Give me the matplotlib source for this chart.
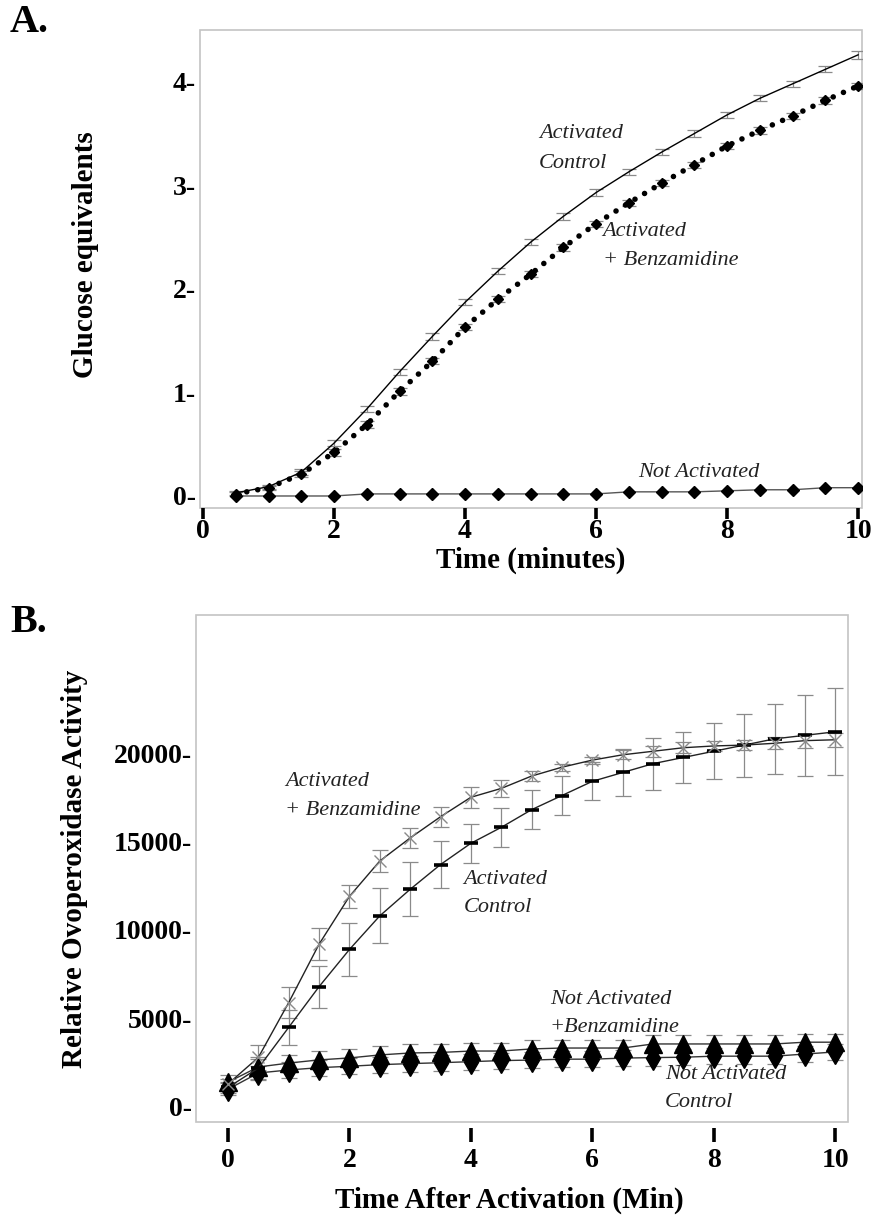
import matplotlib
matplotlib.use("Agg")
import matplotlib.pyplot as plt
from matplotlib.patches import Rectangle
from matplotlib.ticker import FixedLocator, FuncFormatter

plt.rcParams['font.family'] = ['Liberation Serif', 'DejaVu Serif']

# ---------------- Panel A data ----------------
tA = [0.5, 1.0, 1.5, 2.0, 2.5, 3.0, 3.5, 4.0, 4.5, 5.0,
      5.5, 6.0, 6.5, 7.0, 7.5, 8.0, 8.5, 9.0, 9.5, 10.0]
a_control = [0.03, 0.09, 0.23, 0.51, 0.84, 1.20, 1.54, 1.87, 2.17, 2.45,
             2.70, 2.93, 3.13, 3.32, 3.50, 3.68, 3.84, 3.98, 4.12, 4.26]
a_control_err = [0.02, 0.02, 0.03, 0.03, 0.03, 0.03, 0.03, 0.03, 0.03, 0.03,
                 0.03, 0.03, 0.03, 0.03, 0.03, 0.03, 0.03, 0.03, 0.03, 0.04]
a_benz = [0.02, 0.08, 0.21, 0.42, 0.69, 1.01, 1.30, 1.63, 1.90, 2.14,
          2.40, 2.63, 2.83, 3.02, 3.20, 3.38, 3.53, 3.67, 3.82, 3.96]
a_benz_err = [0.02, 0.02, 0.03, 0.03, 0.03, 0.03, 0.03, 0.03, 0.03, 0.03,
              0.03, 0.03, 0.03, 0.03, 0.03, 0.03, 0.03, 0.03, 0.03, 0.03]
a_notact = [0.0, 0.0, 0.0, 0.0, 0.02, 0.02, 0.02, 0.02, 0.02, 0.02,
            0.02, 0.02, 0.04, 0.04, 0.04, 0.05, 0.06, 0.06, 0.08, 0.08]
a_yticks = [0, 1, 2, 3, 4]
a_xticks = [0, 2, 4, 6, 8, 10]

# ---------------- Panel B data ----------------
tB = [0.0, 0.5, 1.0, 1.5, 2.0, 2.5, 3.0, 3.5, 4.0, 4.5, 5.0,
      5.5, 6.0, 6.5, 7.0, 7.5, 8.0, 8.5, 9.0, 9.5, 10.0]
b_control = [1100, 2200, 4500, 6800, 8900, 10800, 12300, 13700, 14900, 15800, 16800,
             17600, 18400, 18900, 19400, 19750, 20100, 20450, 20800, 21000, 21200]
b_control_err = [300, 600, 1000, 1180, 1500, 1550, 1530, 1340, 1100, 1100, 1100,
                 1100, 1070, 1330, 1470, 1440, 1580, 1780, 1980, 2300, 2450]
b_benz = [1300, 2800, 5900, 9200, 11900, 13900, 15200, 16400, 17500, 18000, 18700,
          19200, 19600, 19900, 20100, 20300, 20400, 20450, 20550, 20700, 20750]
b_benz_err = [300, 700, 900, 900, 650, 600, 550, 570, 600, 500, 300,
              200, 200, 250, 300, 300, 300, 300, 350, 400, 400]
b_na_benz = [1400, 2260, 2480, 2660, 2770, 2940, 3050, 3080, 3160, 3160, 3280,
             3330, 3330, 3330, 3560, 3560, 3560, 3560, 3560, 3660, 3660]
b_na_benz_err = [400, 450, 480, 480, 480, 480, 480, 480, 480, 480, 480,
                 480, 480, 480, 480, 480, 480, 480, 480, 480, 480]
b_na_control = [1000, 1920, 2090, 2220, 2300, 2390, 2450, 2500, 2560, 2620, 2650,
                2700, 2700, 2760, 2790, 2810, 2870, 2870, 2870, 2990, 3110]
b_na_control_err = [350, 420, 450, 450, 450, 450, 450, 450, 450, 450, 450,
                    450, 450, 450, 450, 450, 450, 450, 450, 450, 450]
b_yticks = [0, 5000, 10000, 15000, 20000]
b_xticks = [0, 2, 4, 6, 8, 10]

W, H = 884, 1215
fig = plt.figure(figsize=(W / 100, H / 100), dpi=100)

def frac_axes(left, top, right, bottom):
    return fig.add_axes([left / W, 1 - bottom / H, (right - left) / W, (bottom - top) / H])

GRAY = '#8a8a8a'
SPINE = '#c4c4c4'
TICK_FS = 20
LABEL_FS = 21

def style_axes(ax, xticks, yticks, offset, tlen, tpad):
    for s in ax.spines.values():
        s.set_visible(False)
    ax.add_patch(Rectangle((0, 0), 1, 1, transform=ax.transAxes, fill=False,
                           edgecolor=SPINE, lw=1.2, zorder=0.5, clip_on=False))
    ax.spines['bottom'].set_position(('outward', offset))
    ax.xaxis.set_major_locator(FixedLocator(xticks))
    ax.yaxis.set_major_locator(FixedLocator(yticks))
    ax.yaxis.set_major_formatter(FuncFormatter(lambda v, p: f"{int(v)}-"))
    ax.tick_params(axis='x', direction='out', length=tlen, width=2.6, color='black',
                   pad=tpad, labelsize=TICK_FS)
    ax.tick_params(axis='y', length=0, pad=3, labelsize=TICK_FS)
    for lab in ax.get_xticklabels() + ax.get_yticklabels():
        lab.set_fontweight('bold')
    ax.tick_params(top=False, right=False)

# ---------------- Panel A ----------------
axA = frac_axes(200, 30, 862, 508)
axA.set_xlim(-0.046, 10.06)
axA.set_ylim(-0.116, 4.50)
style_axes(axA, a_xticks, a_yticks, 0, 8, 0)

axA.errorbar(tA, a_control, yerr=a_control_err, fmt='none', ecolor=GRAY,
             elinewidth=0.9, capsize=5, capthick=0.9, zorder=2)
axA.plot(tA, a_control, color='black', lw=1.0, zorder=3)
axA.errorbar(tA, a_benz, yerr=a_benz_err, fmt='none', ecolor=GRAY,
             elinewidth=0.9, capsize=5, capthick=0.9, zorder=2)
axA.plot(tA, a_benz, color='black', lw=4.0, linestyle=(0, (0.01, 2.0)),
         dash_capstyle='round', zorder=3)
axA.plot(tA, a_benz, linestyle='none', marker='D', ms=5, color='black', zorder=4)
axA.plot(tA, a_notact, color='#555555', lw=1.0, marker='D', ms=6,
         mfc='black', mec='black', zorder=3)

it = dict(fontsize=16, style='italic', color='#222222')
axA.text(5.13, 3.50, 'Activated', va='center', ha='left', **it)
axA.text(5.13, 3.21, 'Control', va='center', ha='left', **it)
axA.text(6.1, 2.55, 'Activated', va='center', ha='left', **it)
axA.text(6.1, 2.27, '+ Benzamidine', va='center', ha='left', **it)
axA.text(6.65, 0.23, 'Not Activated', va='center', ha='left', **it)

axA.set_ylabel('Glucose equivalents', fontsize=LABEL_FS, fontweight='bold')
axA.yaxis.set_label_coords(-0.152, 0.53)
axA.set_xlabel('Time (minutes)', fontsize=LABEL_FS, fontweight='bold')
axA.xaxis.set_label_coords(0.5, -0.080)

fig.text(10 / W, 1 - 22 / H, 'A.', fontsize=29, fontweight='bold', va='center', ha='left')

# ---------------- Panel B ----------------
axB = frac_axes(196, 615, 848, 1122)
axB.set_xlim(-0.527, 10.21)
axB.set_ylim(-850, 27800)
style_axes(axB, b_xticks, b_yticks, 4, 10, 5)

axB.errorbar(tB, b_na_control, yerr=b_na_control_err, fmt='none', ecolor=GRAY,
             elinewidth=0.9, capsize=6, capthick=0.9, zorder=2)
axB.errorbar(tB, b_na_benz, yerr=b_na_benz_err, fmt='none', ecolor=GRAY,
             elinewidth=0.9, capsize=6, capthick=0.9, zorder=2)
axB.errorbar(tB, b_control, yerr=b_control_err, fmt='none', ecolor=GRAY,
             elinewidth=0.9, capsize=6, capthick=0.9, zorder=2)
axB.errorbar(tB, b_benz, yerr=b_benz_err, fmt='none', ecolor=GRAY,
             elinewidth=0.9, capsize=6, capthick=0.9, zorder=2)

axB.plot(tB, b_na_control, color='#333333', lw=1.0, marker='d', ms=12,
         mfc='black', mec='black', zorder=3)
axB.plot(tB, b_na_benz, color='#333333', lw=1.0, marker='^', ms=13,
         mfc='black', mec='black', zorder=3)
axB.plot(tB, b_control, color='#222222', lw=1.0, marker='_', ms=10, mew=2.6,
         mec='black', zorder=4)
axB.plot(tB, b_benz, color='#222222', lw=1.0, marker='x', ms=9, mew=1.0,
         mec=GRAY, zorder=4)

axB.text(0.94, 18400, 'Activated', va='center', ha='left', **it)
axB.text(0.94, 16750, '+ Benzamidine', va='center', ha='left', **it)
axB.text(3.88, 12850, 'Activated', va='center', ha='left', **it)
axB.text(3.88, 11250, 'Control', va='center', ha='left', **it)
axB.text(5.3, 6100, 'Not Activated', va='center', ha='left', **it)
axB.text(5.3, 4500, '+Benzamidine', va='center', ha='left', **it)
axB.text(7.2, 1850, 'Not Activated', va='center', ha='left', **it)
axB.text(7.2, 250, 'Control', va='center', ha='left', **it)

axB.set_ylabel('Relative Ovoperoxidase Activity', fontsize=LABEL_FS, fontweight='bold')
axB.yaxis.set_label_coords(-0.165, 0.5)
axB.set_xlabel('Time After Activation (Min)', fontsize=LABEL_FS, fontweight='bold')
axB.xaxis.set_label_coords(0.48, -0.128)

fig.text(10 / W, 1 - 623 / H, 'B.', fontsize=29, fontweight='bold', va='center', ha='left')

fig.savefig('out.png', dpi=100)
